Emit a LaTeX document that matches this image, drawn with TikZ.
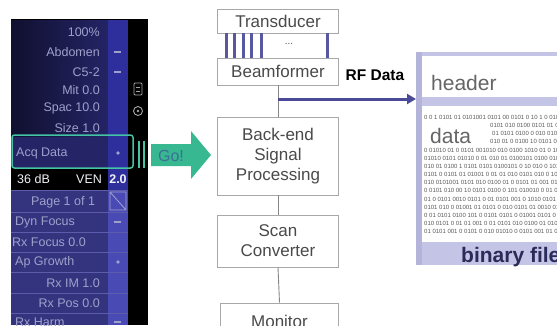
\documentclass[tikz,border=0pt]{standalone}
\usepackage{fontspec}
\setmainfont{Liberation Sans}
\usetikzlibrary{arrows.meta}
\definecolor{boxline}{HTML}{A8A8A8}
\definecolor{boxtext}{HTML}{4A4A4A}
\definecolor{navyrow}{HTML}{242466}
\definecolor{navydark}{HTML}{101030}
\definecolor{rowsep}{HTML}{3C3C80}
\definecolor{colblue}{HTML}{2E2E9C}
\definecolor{colblue2}{HTML}{4A4AB4}
\definecolor{lowrow}{HTML}{34347E}
\definecolor{lowsep}{HTML}{5C5CAA}
\definecolor{paneltext}{HTML}{A0A0CC}
\definecolor{goteal}{HTML}{38B890}
\definecolor{gotext}{HTML}{3D6E9A}
\definecolor{hilite}{HTML}{44C4A4}
\definecolor{elbar}{HTML}{5858A0}
\definecolor{rfline}{HTML}{4A4A98}
\definecolor{lav}{HTML}{C4C4E6}
\definecolor{lavdark}{HTML}{B4B4DA}
\definecolor{bintext}{HTML}{2B2B5A}
\definecolor{digit}{HTML}{5A5A5A}
\tikzset{
  stagebox/.style={draw=boxline, line width=0.9pt, fill=white, text=boxtext,
    minimum width=121pt, align=center, inner sep=0pt,
    font=\fontsize{17}{20}\selectfont},
  link/.style={draw=boxline!80!black, line width=0.9pt},
  ptext/.style={text=paneltext, inner sep=0pt, font=\fontsize{12.5}{14}\selectfont},
  wtext/.style={text=white!85!paneltext, inner sep=0pt, font=\fontsize{12.5}{14}\selectfont},
  elem/.style={draw=elbar, line width=3pt},
  digits/.style={text=digit, inner sep=0pt, anchor=west, font=\fontsize{6}{6}\selectfont},
}
\begin{document}
\begin{tikzpicture}[x=1pt,y=-1pt]
\useasboundingbox (0,0) rectangle (557,325);
\clip (0,0) rectangle (557,325);
% ---------------- left panel ----------------
\fill[black] (11,19) rectangle (148,325);
\foreach \a/\b in {20/42,42/62,62/81,81/99,99/118,118/137,137/168}{
  \shade[left color=navydark, right color=navyrow] (11,\a) rectangle (108,\b);
  \draw[rowsep, line width=0.8pt] (11,\b) -- (108,\b);
}
\fill[colblue] (108,20) rectangle (128,190);
\fill[black] (11,168) rectangle (108,190);
\fill[lowrow] (11,190) rectangle (108,325);
\fill[colblue2] (108,190) rectangle (128,325);
\foreach \b in {190,212,232,252,272,293,313}{
  \draw[lowsep, line width=0.8pt] (11,\b) -- (128,\b);
}
% column marks
\draw[paneltext, line width=1.2pt] (114,52) -- (121,52);
\draw[paneltext, line width=1.2pt] (114,72) -- (121,72);
\draw[paneltext, line width=1.2pt] (114,222) -- (121,222);
\fill[paneltext] (118,262) circle (1.8);
\draw[paneltext, line width=1.2pt] (114,322) -- (121,322);
\draw[paneltext, line width=0.8pt] (110,192) rectangle (126,210) (110,192) -- (126,210);
% icons
\draw[gray!70, line width=0.9pt, rounded corners=1] (134,83) rectangle (142,95);
\draw[gray!70, line width=0.7pt] (136,87) -- (140,87) (136,91) -- (140,91);
\draw[gray!70, line width=0.9pt] (138,111) circle (4.5);
\fill[gray!70] (138,111) circle (1.3);
% panel texts
\node[ptext, anchor=east] (t1) at (100,32) {100\%};
\node[ptext, anchor=east] (t2) at (100,52) {Abdomen};
\node[ptext, anchor=east] (t3) at (100,72) {C5-2};
\node[ptext, anchor=east] (t4) at (100,90) {Mit 0.0};
\node[ptext, anchor=east] (t5) at (100,108) {Spac 10.0};
\node[ptext, anchor=east] (t6) at (100,128) {Size 1.0};
\node[wtext, anchor=west] (t8) at (17,179) {36 dB};
\node[wtext, anchor=west] (t9) at (76,179) {VEN};
\node[wtext, anchor=center, font=\bfseries\fontsize{12.5}{14}\selectfont] (t10) at (118,179) {2.0};
\node[ptext] (t11) at (63,202) {Page 1 of 1};
\node[ptext, anchor=west] (t12) at (15,222) {Dyn Focus};
\node[ptext, anchor=west] (t13) at (12,242) {Rx Focus 0.0};
\node[ptext, anchor=west] (t14) at (15,262) {Ap Growth};
\node[ptext, anchor=east] (t15) at (100,283) {Rx IM 1.0};
\node[ptext, anchor=east] (t16) at (100,303) {Rx Pos 0.0};
\node[ptext, anchor=west] (t17) at (15,322) {Rx Harm};
% highlighted row
\fill[navyrow] (12,137) rectangle (108,168);
\node[ptext, anchor=west] (t7) at (16,153) {Acq Data};
\fill[paneltext] (118,153) circle (1.8);
\draw[hilite, line width=1.5pt, rounded corners=2.5pt] (12,135) rectangle (133,168);
% ---------------- Go! arrow ----------------
\fill[hilite] (137.5,141) rectangle (140,168);
\fill[hilite] (142.5,141) rectangle (145,168);
\fill[goteal] (151,144) -- (191,144) -- (191,131) -- (211,155) -- (191,179) -- (191,166) -- (151,166) -- cycle;
\node[text=gotext, inner sep=0pt, font=\fontsize{16}{18}\selectfont] (go) at (171,155.5) {Go!};
% ---------------- processing chain ----------------
\node[stagebox, minimum height=24pt] (trans) at (278,21) {Transducer};
\node[stagebox, minimum height=27pt] (beam) at (278,71.5) {Beamformer};
\node[stagebox, minimum height=78pt] (back) at (278,156) {Back-end\\Signal\\Processing};
\node[stagebox, minimum height=52pt] (scan) at (278,241) {Scan\\Converter};
\node[stagebox, minimum width=118pt, minimum height=36pt] (mon) at (279.5,321) {Monitor};
\foreach \x in {226,234,243.5,251,261,327}{
  \draw[elem] (\x,0 |- trans.south) -- (\x,0 |- beam.north);
}
\node[text=boxtext, inner sep=0pt, font=\fontsize{10}{10}\selectfont] (dots) at (289,44) {...};
\draw[link] (beam.south) -- (back.north);
\draw[link] (back.south) -- (scan.north);
\draw[link] (scan.south) -- (mon.north);
% ---------------- binary file ----------------
\node[fill=lav, inner sep=0pt, minimum width=160pt, minimum height=213pt, anchor=north west] (bin) at (416,52) {};
\fill[lavdark] (416,52) rectangle (422,265);
\fill[white] (422,55.5) rectangle (580,97);
\fill[white] (422,106) rectangle (580,242);
\node[text=boxtext!85, inner sep=0pt, anchor=base west, font=\fontsize{21}{21}\selectfont] (hdr) at (431,90) {header};
\node[text=boxtext!85, inner sep=0pt, anchor=base west, font=\fontsize{21}{21}\selectfont] (dat) at (430,143) {data};
\node[text=bintext, inner sep=0pt, anchor=base west, font=\bfseries\fontsize{21}{21}\selectfont] (bf) at (461,262) {binary file};
\begin{scope}
\clip (423,108) rectangle (557,241);
\node[digits] (d0) at (424,117) {0 0 1 0101 01 0101001 0101 00 0101 0 10 1 0 01010 0101};
\node[digits] (d1) at (490,125.2) {0101 010 0100 0101 01 00 1};
\node[digits] (d2) at (492,133.4) {01 0101 0100 0 010 0101};
\node[digits] (d3) at (490,141.6) {010 01 0 0100 10 0101 010};
\node[digits] (d4) at (424,150.5) {0 01010 01 0 0101 001010 010 0100 1010 01 0 10101 0};
\node[digits] (d5) at (424,158.5) {01010 0101 01010 0 01 010 01 0100101 0100 010 010};
\node[digits] (d6) at (424,166.5) {010 01 0100 1 0101 0101 0100101 0 10 010 0 10100 1};
\node[digits] (d7) at (424,174.5) {0101 0 0101 01 01001 0 01 01 010 0101 010 0 1010};
\node[digits] (d8) at (424,182.6) {010 0101001 0101 010 0100 01 0 0101 01 001 0101 0};
\node[digits] (d9) at (424,190.8) {0 0101 010 00 10 0101 0100 0 101 010010 0 01 010};
\node[digits] (d10) at (424,199) {01 0 0101 0010 0101 0 01 0101 001 0 1010 0101 01};
\node[digits] (d11) at (424,207.2) {0101 010 0 01001 01 0101 0 010 0101 01 0010 010};
\node[digits] (d12) at (424,215.4) {0 01 0101 0100 101 0 0101 0101 0 01001 0101 0 1};
\node[digits] (d13) at (424,223.6) {010 0101 0 01 01 001 0 01 0101 010 0100 01 0101};
\node[digits] (d14) at (424,231.8) {01 0101 001 0 0101 0 010 01010 0 0101 001 01 0};
\end{scope}
% ---------------- RF data link ----------------
\coordinate (rfsplit) at (beam.south |- 0,99);
\draw[rfline, line width=3pt, -{Triangle[length=9pt,width=10pt]}] (rfsplit) -- (rfsplit -| bin.west);
\node[text=black, inner sep=0pt, font=\bfseries\fontsize{15.5}{16}\selectfont] (rf) at (375,75) {RF Data};
\end{tikzpicture}
\end{document}
